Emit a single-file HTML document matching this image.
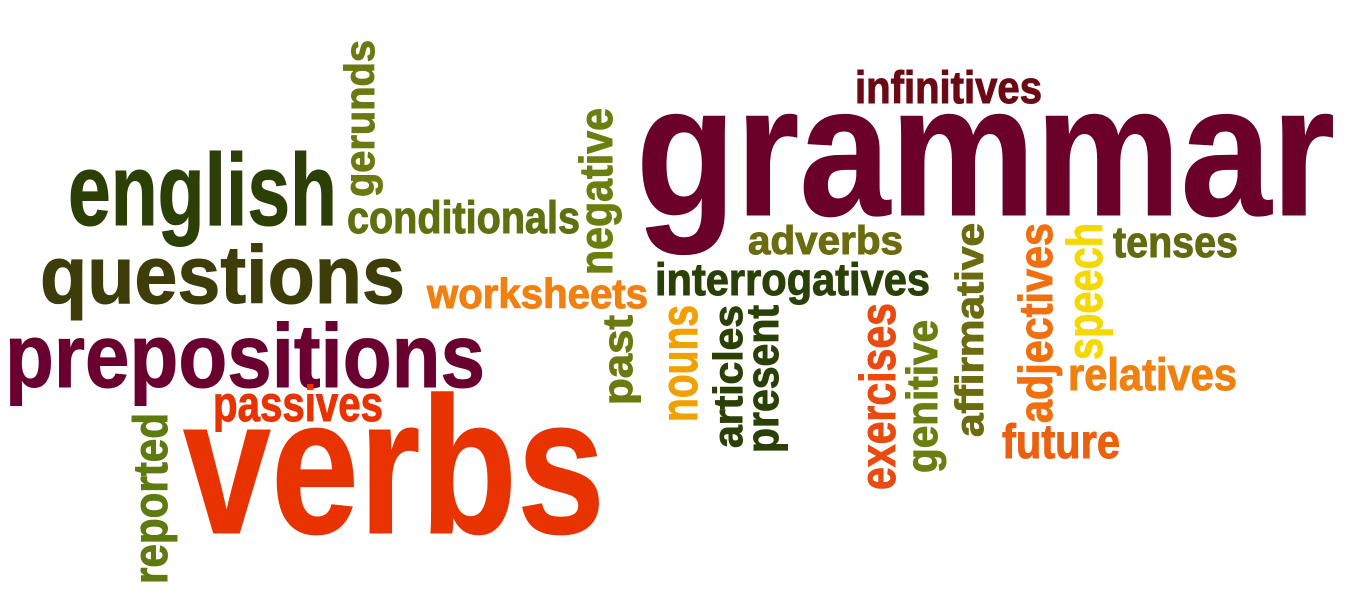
<!DOCTYPE html>
<html>
<head>
<meta charset="utf-8">
<style>
html,body{margin:0;padding:0;background:#fff;}
svg{display:block;}
text{font-family:"Liberation Sans Narrow","Liberation Sans",sans-serif;font-weight:bold;stroke:currentColor;stroke-width:1;}
</style>
</head>
<body>
<svg width="1349" height="607" viewBox="0 0 1349 607" xmlns="http://www.w3.org/2000/svg">
  <rect width="1349" height="607" fill="#ffffff"/>

  <text x="636" y="215" font-size="187" fill="#6b0028" color="#6b0028" textLength="699" lengthAdjust="spacingAndGlyphs">grammar</text>
  <text x="855" y="103" font-size="45" fill="#6b0a14" color="#6b0a14" textLength="187" lengthAdjust="spacingAndGlyphs">infinitives</text>
  <text x="68" y="225" font-size="102" fill="#2b3f06" color="#2b3f06" textLength="269" lengthAdjust="spacingAndGlyphs">english</text>
  <text x="40" y="303" font-size="82" fill="#3d3d0a" color="#3d3d0a" textLength="365" lengthAdjust="spacingAndGlyphs">questions</text>
  <text x="5" y="387" font-size="90" fill="#6a0030" color="#6a0030" textLength="480" lengthAdjust="spacingAndGlyphs">prepositions</text>
  <text x="213" y="421" font-size="50" fill="#e83300" color="#e83300" textLength="170" lengthAdjust="spacingAndGlyphs">passives</text>
  <text x="183" y="533" font-size="195" fill="#e83300" color="#e83300" textLength="422" lengthAdjust="spacingAndGlyphs">verbs</text>
  <text x="347" y="233" font-size="45" fill="#5f7010" color="#5f7010" textLength="233" lengthAdjust="spacingAndGlyphs">conditionals</text>
  <text x="427" y="308" font-size="42" fill="#f08010" color="#f08010" textLength="221" lengthAdjust="spacingAndGlyphs">worksheets</text>
  <text x="748" y="254" font-size="40" fill="#6b6b10" color="#6b6b10" textLength="155" lengthAdjust="spacingAndGlyphs">adverbs</text>
  <text x="655" y="295" font-size="45" fill="#2b4006" color="#2b4006" textLength="275" lengthAdjust="spacingAndGlyphs">interrogatives</text>
  <text x="1113" y="257" font-size="44" fill="#606a10" color="#606a10" textLength="125" lengthAdjust="spacingAndGlyphs">tenses</text>
  <text x="1068" y="390" font-size="45" fill="#f08010" color="#f08010" textLength="169" lengthAdjust="spacingAndGlyphs">relatives</text>
  <text x="1002" y="458" font-size="48" fill="#e86010" color="#e86010" textLength="118" lengthAdjust="spacingAndGlyphs">future</text>

  <text transform="translate(374,197) rotate(-90)" x="0" y="0" font-size="42" fill="#6a7a10" color="#6a7a10" textLength="157" lengthAdjust="spacingAndGlyphs">gerunds</text>
  <text transform="translate(612,275) rotate(-90)" x="0" y="0" font-size="46" fill="#6b7f10" color="#6b7f10" textLength="167" lengthAdjust="spacingAndGlyphs">negative</text>
  <text transform="translate(632,405) rotate(-90)" x="0" y="0" font-size="42" fill="#6b7a10" color="#6b7a10" textLength="90" lengthAdjust="spacingAndGlyphs">past</text>
  <text transform="translate(167,584) rotate(-90)" x="0" y="0" font-size="48" fill="#5f7a10" color="#5f7a10" textLength="171" lengthAdjust="spacingAndGlyphs">reported</text>
  <text transform="translate(697,422) rotate(-90)" x="0" y="0" font-size="52" fill="#f0a000" color="#f0a000" textLength="117" lengthAdjust="spacingAndGlyphs">nouns</text>
  <text transform="translate(742,448) rotate(-90)" x="0" y="0" font-size="41" fill="#2b4006" color="#2b4006" textLength="143" lengthAdjust="spacingAndGlyphs">articles</text>
  <text transform="translate(778,453) rotate(-90)" x="0" y="0" font-size="45" fill="#2b4006" color="#2b4006" textLength="148" lengthAdjust="spacingAndGlyphs">present</text>
  <text transform="translate(895,490) rotate(-90)" x="0" y="0" font-size="50" fill="#e84a10" color="#e84a10" textLength="187" lengthAdjust="spacingAndGlyphs">exercises</text>
  <text transform="translate(937,473) rotate(-90)" x="0" y="0" font-size="44" fill="#6b7f10" color="#6b7f10" textLength="153" lengthAdjust="spacingAndGlyphs">genitive</text>
  <text transform="translate(983,437) rotate(-90)" x="0" y="0" font-size="39" fill="#6b6b10" color="#6b6b10" textLength="214" lengthAdjust="spacingAndGlyphs">affirmative</text>
  <text transform="translate(1052,423) rotate(-90)" x="0" y="0" font-size="47" fill="#f07010" color="#f07010" textLength="200" lengthAdjust="spacingAndGlyphs">adjectives</text>
  <text transform="translate(1102,360) rotate(-90)" x="0" y="0" font-size="50" fill="#f5d800" color="#f5d800" textLength="137" lengthAdjust="spacingAndGlyphs">speech</text>
</svg>
</body>
</html>
